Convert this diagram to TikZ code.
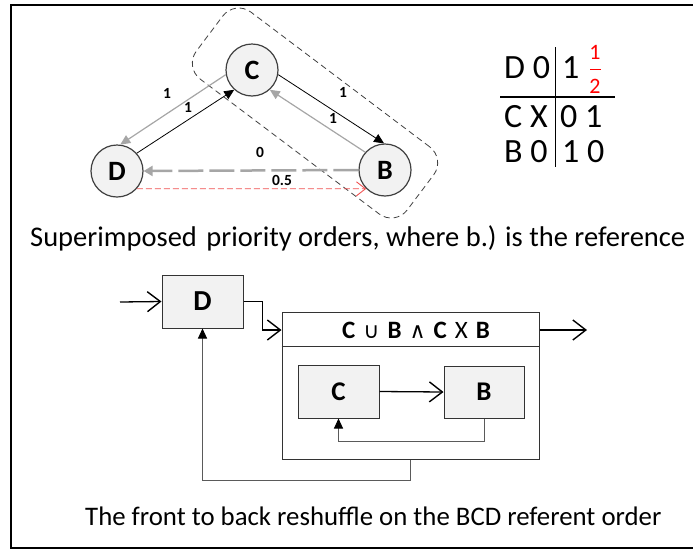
\documentclass[tikz,border=0pt]{standalone}
\usepackage{fontspec}
\setmainfont{Carlito}
\newfontfamily\symfont{DejaVu Sans}
\usetikzlibrary{arrows.meta}
\definecolor{nodefill}{HTML}{F2F2F2}
\definecolor{edgegray}{HTML}{A6A6A6}
\definecolor{dashred}{HTML}{F05050}
\definecolor{wiregray}{HTML}{5A5A5A}
\begin{document}
\begin{tikzpicture}[x=1pt,y=-1pt,
  state/.style={circle, draw=black!75, line width=1.2pt, fill=nodefill,
    minimum size=52pt, inner sep=0pt, font=\fontsize{28}{30}\selectfont\bfseries},
  blk/.style={draw=black!80, line width=1pt, fill=nodefill, inner sep=0pt,
    font=\fontsize{29}{31}\selectfont\bfseries},
  inblk/.style={blk, font=\fontsize{27}{29}\selectfont\bfseries},
  edgelbl/.style={inner sep=0pt, font=\fontsize{15.5}{17}\selectfont\bfseries},
  cell/.style={anchor=base west, inner sep=0pt, font=\fontsize{34}{36}\selectfont},
  solidtip/.style={-{Triangle[length=10pt,width=9pt]}},
  opentip/.style={-{Straight Barb[length=13pt,width=20pt,line width=1.4pt]}},
  caption/.style={anchor=base west, inner sep=0pt}
]
\useasboundingbox (0,0) rectangle (693,552);

% frame
\draw[line width=2.2pt] (693,5) -- (11,5) -- (11,548) -- (693,548);

% ---------- priority graph ----------
\node[draw=black!75, line width=0.8pt, dash pattern=on 6pt off 4pt,
  rounded corners=20pt, minimum width=264pt, minimum height=84pt,
  rotate=-37] (grp) at (315,113) {};

\node[state] (C) at (252,70) {C};
\node[state] (D) at (117,171) {D};
\node[state] (B) at (385,170) {B};

\draw[edgegray, line width=1.2pt, solidtip] (C.190) -- (D.83);
\draw[black, line width=0.8pt, solidtip] (D.42) -- (C.228);
\draw[black, line width=0.8pt, solidtip] (C.350) -- (B.92);
\draw[edgegray, line width=1.2pt, solidtip] (B.138) -- (C.312);
\draw[edgegray, line width=2.5pt, dash pattern=on 25pt off 6pt,
  -{Triangle[length=9pt,width=10pt]}] (B.180) -- (D.0);
\draw[dashred, line width=0.8pt, dash pattern=on 6pt off 3pt,
  -{Straight Barb[length=9pt,width=14pt,line width=0.9pt]}] (D.318) -- (B.225);

\node[edgelbl] (l1) at (167,93) {1};
\node[edgelbl] (l2) at (188,107) {1};
\node[edgelbl] (l3) at (343,92) {1};
\node[edgelbl] (l4) at (333,118) {1};
\node[edgelbl] (l5) at (260,152) {0};
\node[edgelbl] (l6) at (282,180) {0.5};

% ---------- order table ----------
\draw[line width=1pt] (555.5,47) -- (555.5,167);
\draw[line width=1.2pt] (500,97) -- (615,97);
\node[cell] (r1a) at (504,78) {D 0};
\node[cell] (r1b) at (562,78) {1};
\node[red, inner sep=0pt, font=\fontsize{22}{24}\selectfont] (fn) at (595,52) {1};
\draw[red, line width=1pt] (590,69) -- (601,69);
\node[red, inner sep=0pt, font=\fontsize{22}{24}\selectfont] (fd) at (595,86) {2};
\node[cell] (r2a) at (504,127) {C X};
\node[cell] (r2b) at (560,127) {0 1};
\node[cell] (r3a) at (504,162) {B 0};
\node[cell] (r3b) at (562,162) {1 0};

\node[caption, font=\fontsize{28.5}{30}\selectfont] (cap1) at (30,246)
  {Superimposed\hspace{3pt} priority orders, where b.) is the reference};

% ---------- reshuffle block diagram ----------
\node[blk, minimum width=81pt, minimum height=53pt] (Dbox) at (202.5,301.5) {D};
\node[draw=black!80, line width=1pt, minimum width=257pt, minimum height=147pt,
  inner sep=0pt] (big) at (410.5,385.5) {};
\draw[black!80, line width=1pt] (big.west |- 0,346) -- (big.east |- 0,346);
\node[inner sep=0pt, font=\fontsize{25}{27}\selectfont] (title) at (416,330)
  {\textbf{C}\hspace{8pt}{\symfont\fontsize{22}{24}\selectfont ∪}\hspace{8pt}\textbf{B}\hspace{8pt}{\symfont\fontsize{22}{24}\selectfont ∧}\hspace{8pt}\textbf{C}\hspace{8pt}X\hspace{8pt}\textbf{B}};
\node[inblk, minimum width=81pt, minimum height=53pt] (C2) at (338.5,391.5) {C};
\node[inblk, minimum width=80pt, minimum height=52pt] (B2) at (484,392) {B};

\coordinate (in) at (120,302);
\coordinate (out) at (587,330);
\draw[line width=1.3pt, opentip] (in) -- (Dbox.west);
\draw[line width=1.3pt, opentip] (Dbox.east) -- ++(19,0) |- (big.west |- title);
\draw[line width=1.3pt, opentip] (big.east |- title) -- (out);
\draw[line width=1.3pt, opentip] (C2.east) -- (B2.west);
\draw[wiregray, line width=1pt, -{Triangle[length=10pt,width=9pt,color=black]}]
  (B2.south) -- ++(0,23) -| (C2.south);
\draw[wiregray, line width=1pt, -{Triangle[length=10pt,width=9pt,color=black]}]
  (big.south) -- ++(0,21) -| (Dbox.south);

\node[caption, font=\fontsize{26.8}{28}\selectfont] (cap2) at (85,525)
  {The front to back reshuffle on the BCD referent order};
\end{tikzpicture}
\end{document}
